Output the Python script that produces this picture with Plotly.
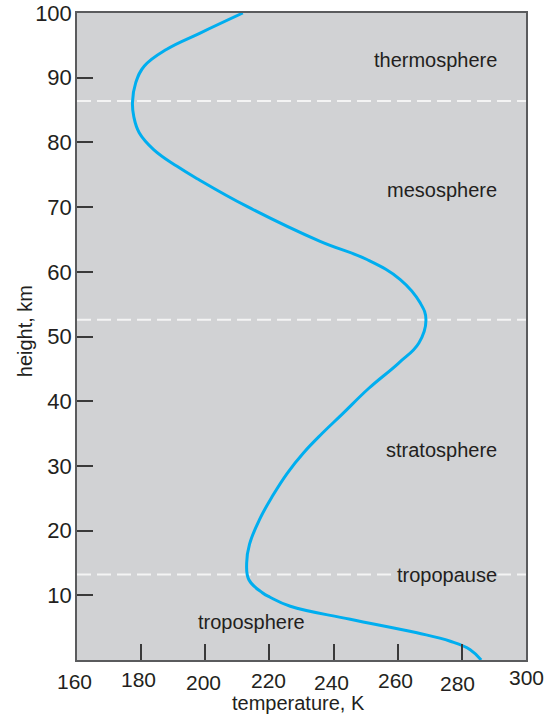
import plotly.graph_objects as go

# ---- data ----
height_km = [0, 1.6, 2.9, 4.2, 6.3, 8.3, 9.7, 10.4, 12.4, 15.0, 17.9, 21.7, 25.3, 28.9,
             32.0, 35.0, 38.0, 42.0, 45.9, 49.0, 52.6, 55.2, 58.8, 61.9, 64.7, 70.1,
             74.3, 76.3, 78.9, 81.5, 84.0, 86.2, 89.2, 91.8, 94.4, 96.9, 100]
temperature_K = [286.0, 282.6, 276.4, 266.0, 245.2, 226.5, 220.2, 217.8, 213.6, 212.9,
                 213.8, 216.9, 220.9, 225.6, 230.6, 236.4, 242.7, 251.0, 260.3, 266.6,
                 268.8, 267.0, 260.8, 250.4, 235.8, 213.0, 197.8, 191.2, 183.9, 179.4,
                 177.7, 177.3, 178.3, 181.0, 188.0, 198.4, 211.7]

layer_boundaries_km = [13.2, 52.6, 86.4]

layer_names = ["thermosphere", "mesosphere", "stratosphere", "tropopause", "troposphere"]
layer_label_heights = [92.7, 72.6, 32.5, 13.1, 5.95]

x_tick_values = [160, 180, 200, 220, 240, 260, 280, 300]
x_tick_labels = ["160", "180", "200", "220", "240", "260", "280", "300"]
y_tick_values = [10, 20, 30, 40, 50, 60, 70, 80, 90, 100]
y_tick_labels = ["10", "20", "30", "40", "50", "60", "70", "80", "90", "100"]

# ---- styling ----
FONT = "Liberation Sans, Arial, sans-serif"
TXT = "#231f20"
BG = "#d1d2d4"
LINE = "#00aeef"
AXIS = "#5a5b5d"

# staggered x tick label offsets (pixels) as seen in the reference
x_label_yshift = [-21.5, -19.5, -22.5, -20.5, -22, -20.5, -23.5, -17.5]
x_label_xshift = [-2.5, -3, -2, -1, -2, -2.5, -4, 0]

fig = go.Figure()

fig.add_trace(go.Scatter(
    x=temperature_K, y=height_km, mode="lines",
    line=dict(color=LINE, width=3, shape="spline", smoothing=1.2),
    hoverinfo="skip", showlegend=False, cliponaxis=True,
))

shapes = []
for b in layer_boundaries_km:
    shapes.append(dict(type="line", xref="paper", x0=0, x1=1, yref="y", y0=b, y1=b,
                       line=dict(color="#f4f4f4", width=2, dash="14px,6px"), layer="below"))

annotations = []
for name, h in zip(layer_names, layer_label_heights):
    if name == "troposphere":
        annotations.append(dict(x=214.5, y=h, xref="x", yref="y", text=name, showarrow=False,
                                xanchor="center", yanchor="middle",
                                font=dict(family=FONT, size=20, color=TXT)))
    else:
        annotations.append(dict(x=291.2, y=h, xref="x", yref="y", text=name, showarrow=False,
                                xanchor="right", yanchor="middle",
                                bgcolor=BG if name == "tropopause" else None,
                                borderpad=0,
                                font=dict(family=FONT, size=20, color=TXT)))

for v, t, ys, xs in zip(x_tick_values, x_tick_labels, x_label_yshift, x_label_xshift):
    annotations.append(dict(x=v, y=0, xref="x", yref="paper", text=t, showarrow=False,
                            xanchor="center", yanchor="middle", yshift=ys, xshift=xs,
                            borderpad=0,
                            font=dict(family=FONT, size=21, color=TXT)))

annotations.append(dict(x=0.493, y=-0.066, xref="paper", yref="paper", text="temperature, K",
                        showarrow=False, xanchor="center", yanchor="middle", borderpad=0,
                        font=dict(family=FONT, size=20, color=TXT)))
annotations.append(dict(x=-0.116, y=0.508, xref="paper", yref="paper", text="height, km",
                        showarrow=False, xanchor="center", yanchor="middle", textangle=-90,
                        font=dict(family=FONT, size=20, color=TXT)))

fig.update_layout(
    width=555, height=720,
    margin=dict(l=77, r=29, t=13, b=60),
    paper_bgcolor="white", plot_bgcolor=BG,
    shapes=shapes, annotations=annotations,
    showlegend=False,
    xaxis=dict(range=[160, 300], tickvals=[180, 200, 220, 240, 260, 280], showticklabels=False,
               ticks="inside", ticklen=16, tickwidth=1.5, tickcolor="#3a3a3a",
               showgrid=False, zeroline=False, showline=True, linecolor=AXIS, linewidth=1.5,
               mirror=True, fixedrange=True, automargin=False),
    yaxis=dict(range=[0, 100], tickvals=y_tick_values, ticktext=y_tick_labels,
               ticks="inside", ticklen=16, tickwidth=1.5, tickcolor="#3a3a3a",
               tickfont=dict(family=FONT, size=22, color=TXT), ticklabelstandoff=-1,
               showgrid=False, zeroline=False, showline=True, linecolor=AXIS, linewidth=1.5,
               mirror=True, fixedrange=True, automargin=False),
)

fig.write_html("out.html", config={"displayModeBar": False},
               post_script="document.body.style.margin='0';document.body.style.overflow='hidden';")
